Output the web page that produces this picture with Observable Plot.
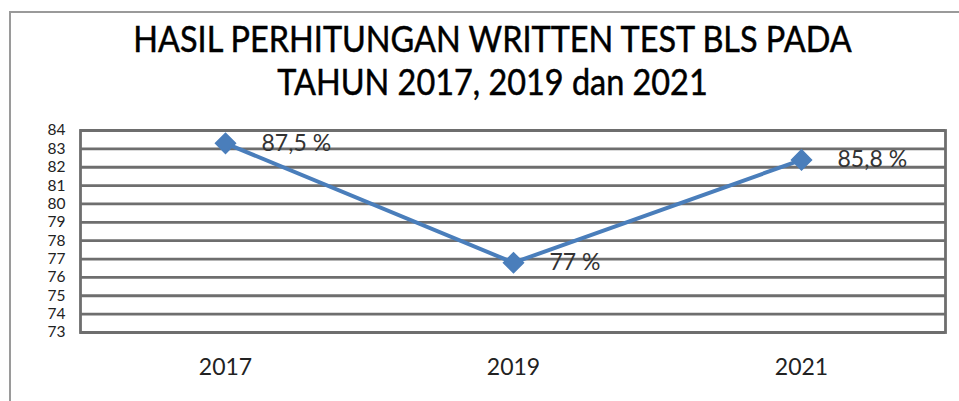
<!DOCTYPE html>
<html>
<head>
<meta charset="utf-8">
<script src="https://cdn.jsdelivr.net/npm/d3@7"></script>
<script src="https://cdn.jsdelivr.net/npm/@observablehq/plot@0.6"></script>
<style>
  html, body { margin: 0; padding: 0; background: #fff; width: 959px; height: 401px; overflow: hidden; }
  #frame { position: absolute; left: 9px; top: 11px; width: 960px; height: 400px;
           border-left: 2px solid #9a9a9a; border-top: 2px solid #9a9a9a; z-index: 2; pointer-events: none; }
  #title { position: absolute; left: 0; top: 17px; width: 985px; text-align: center;
           font-family: Lato, "Noto Sans", sans-serif; font-size: 36px; line-height: 43px; color: #000;
           transform: scaleX(0.9); transform-origin: 492px 0; -webkit-text-stroke: 0.5px #000; }
  #chart { position: absolute; left: 0; top: 115px; }
</style>
</head>
<body>
<div id="frame"></div>
<div id="title">HASIL PERHITUNGAN WRITTEN TEST BLS PADA<br>TAHUN 2017, 2019 dan 2021</div>
<div id="chart"></div>
<script>
const years = ["2017", "2019", "2021"];
const values = [83.3, 76.8, 82.4];
const pointLabels = ["87,5 %", "77 %", "85,8 %"];
const yTicks = [73, 74, 75, 76, 77, 78, 79, 80, 81, 82, 83, 84];

const data = years.map((y, i) => ({year: y, value: values[i], label: pointLabels[i]}));

const chart = Plot.plot({
  width: 959,
  height: 286,
  marginTop: 15,
  marginBottom: 69,
  marginLeft: 80,
  marginRight: 14,
  style: { fontFamily: "Lato, 'Noto Sans', sans-serif", color: "#222", background: "transparent" },
  x: { type: "point", domain: years, padding: 0.5, label: null },
  y: { domain: [73, 84], ticks: yTicks, label: null },
  marks: [
    Plot.ruleY(yTicks, { stroke: "#6e6e6e", strokeWidth: 2.8 }),
    Plot.frame({ stroke: "#6e6e6e", strokeWidth: 2.8 }),
    Plot.axisY({ ticks: yTicks, tickSize: 0, tickPadding: 15, fontSize: 15.5, fill: "#222", tickFormat: d => String(d) }),
    Plot.axisX({ tickSize: 0, tickPadding: 26, fontSize: 23, fill: "#222" }),
    Plot.line(data, { x: "year", y: "value", stroke: "#4a7ebb", strokeWidth: 4 }),
    Plot.dot(data, { x: "year", y: "value", symbol: "diamond2", r: 9, fill: "#4a7ebb", stroke: "#4a7ebb" }),
    Plot.text(data, { x: "year", y: "value", text: "label", dx: 36, textAnchor: "start", fontSize: 23, fill: "#333" })
  ]
});
document.getElementById("chart").appendChild(chart);
</script>
</body>
</html>
